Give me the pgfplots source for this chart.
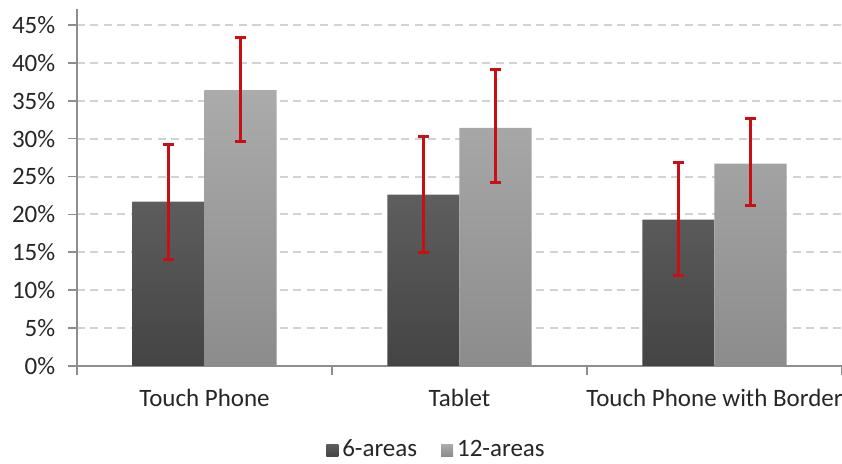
\documentclass[border=0pt]{standalone}
\usepackage{fontspec}
\setmainfont{Carlito}
\usepackage{pgfplots}
\pgfplotsset{compat=1.18}

\definecolor{darktop}{HTML}{5E5E5E}
\definecolor{darkbot}{HTML}{444444}
\definecolor{lighttop}{HTML}{ABABAB}
\definecolor{lightbot}{HTML}{8C8C8C}
\definecolor{errred}{RGB}{198,16,20}
\definecolor{axisgray}{HTML}{8E8E8E}
\definecolor{gridgray}{HTML}{D2D2D2}
\definecolor{textcol}{HTML}{262626}

% 6-areas
\pgfplotstableread{
x y ep em
0 21.7 7.5 7.7
1 22.6 7.7 7.6
2 19.3 7.6 7.3
}\sixareas
% 12-areas
\pgfplotstableread{
x y ep em
0 36.4 7.0 6.8
1 31.4 7.7 7.2
2 26.7 6.0 5.5
}\twelveareas

\begin{document}
\fontsize{12.5}{15}\selectfont
\begin{tikzpicture}
\useasboundingbox (-38.5pt,-49pt) rectangle (382.5pt,183pt);
\begin{axis}[
    at={(0pt,0pt)}, anchor=south west,
    scale only axis, width=382.5pt, height=178.5pt,
    ybar=0pt, bar width=0.283,
    xmin=-0.5, xmax=2.5, ymin=0, ymax=47.1,
    axis x line*=bottom, axis y line*=left,
    axis line style={draw=axisgray, line width=0.8pt},
    tick align=outside,
    /pgf/number format/assume math mode=true,
    xtick={0,1,2},
    xticklabels={Touch Phone, Tablet, Touch Phone with Border},
    xticklabel style={yshift=-2.5pt},
    major x tick style={draw=none},
    extra x ticks={-0.5,0.5,1.5,2.5},
    extra x tick labels={},
    extra x tick style={major tick length=4.5pt,
        major x tick style={draw=axisgray, line width=0.8pt}, xmajorgrids=false},
    ytick={0,5,...,45},
    yticklabel={\pgfmathprintnumber{\tick}\%},
    yticklabel style={xshift=-2pt},
    major y tick style={draw=axisgray, line width=0.8pt},
    major tick length=4.5pt,
    ymajorgrids,
    major grid style={draw=gridgray, line width=1pt, dash pattern=on 4pt off 2.75pt},
    tick label style={text=textcol, font=\fontsize{12.5}{15}\selectfont},
    legend style={at={(0.4712,-0.236)}, anchor=center, draw=none, fill=none,
        legend columns=2, text=textcol, font=\fontsize{12.5}{15}\selectfont,
        /tikz/every even column/.append style={column sep=10pt}},
    legend image code/.code={\path[#1, draw=none] (0pt,-3pt) rectangle (6pt,3pt);},
]
\addplot[draw=none, top color=darktop, bottom color=darkbot,
    error bars/.cd, y dir=both, y explicit,
    error bar style={draw=errred, line width=1.5pt},
    error mark options={rotate=90, mark size=2.75pt, draw=errred, line width=1.5pt}]
    table[x=x, y=y, y error plus=ep, y error minus=em] {\sixareas};
\addlegendentry{6-areas}
\addplot[draw=none, top color=lighttop, bottom color=lightbot,
    error bars/.cd, y dir=both, y explicit,
    error bar style={draw=errred, line width=1.5pt},
    error mark options={rotate=90, mark size=2.75pt, draw=errred, line width=1.5pt}]
    table[x=x, y=y, y error plus=ep, y error minus=em] {\twelveareas};
\addlegendentry{12-areas}
\end{axis}
\end{tikzpicture}
\end{document}
